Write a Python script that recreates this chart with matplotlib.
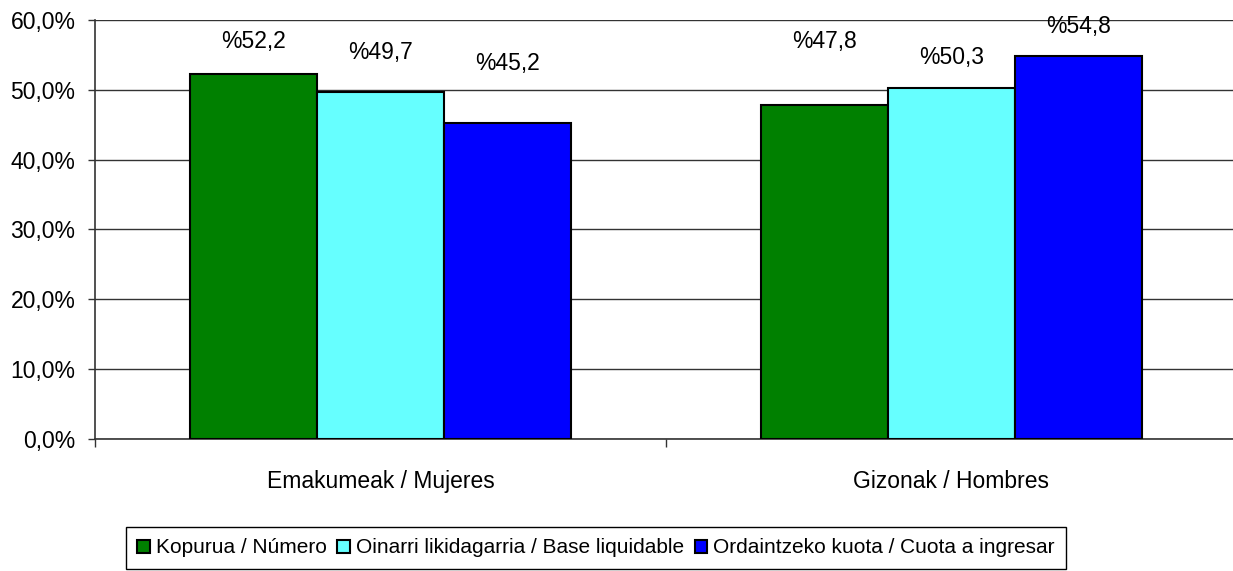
import matplotlib
matplotlib.use('Agg')
import matplotlib.pyplot as plt
import numpy as np

plt.rcParams['font.family'] = ['Liberation Sans', 'DejaVu Sans']

categories = ['Emakumeak / Mujeres', 'Gizonak / Hombres']
series_names = ['Kopurua / Número',
                'Oinarri likidagarria / Base liquidable',
                'Ordaintzeko kuota / Cuota a ingresar']
kopurua = [52.2, 47.8]
oinarri = [49.7, 50.3]
kuota = [45.2, 54.8]

colors = ['#008000', '#66FFFF', '#0000FF']
# label heights (the labels were placed by hand in the original)
label_y = [[56.9, 56.9], [55.4, 54.6], [53.7, 59.0]]

fig = plt.figure(figsize=(12.33, 5.71), dpi=100)
ax = fig.add_axes([0.077, 0.2312, 0.926, 0.7338])

x = np.arange(len(categories))
w = 0.2224
fs = 16.5

for i, (vals, col) in enumerate(zip([kopurua, oinarri, kuota], colors)):
    xs = x + (i - 1) * w
    ax.bar(xs, vals, width=w, color=col, edgecolor='black', linewidth=1.5,
           label=series_names[i], zorder=3)
    for xi, v, ly in zip(xs, vals, label_y[i]):
        ax.text(xi, ly, '%' + f'{v:.1f}'.replace('.', ','), ha='center',
                va='center', fontsize=fs)

ax.set_xlim(-0.5, 1.5)
ax.set_ylim(0, 60)
ax.set_yticks(np.arange(0, 61, 10))
ax.set_yticklabels([f'{v:.1f}%'.replace('.', ',') for v in np.arange(0, 61, 10)],
                   fontsize=fs)
ax.yaxis.grid(True, color='#333333', linewidth=1.0, zorder=0)
ax.set_axisbelow(True)
ax.tick_params(axis='y', length=5, width=1, color='#333333', pad=9)

ax.set_xticks(x)
ax.set_xticklabels(categories, fontsize=fs)
ax.set_xticks([-0.5, 0.5, 1.5], minor=True)
ax.tick_params(axis='x', which='major', length=0, pad=22)
ax.tick_params(axis='x', which='minor', length=6, width=1, color='#333333')

for s in ['top', 'right']:
    ax.spines[s].set_visible(False)
for s in ['left', 'bottom']:
    ax.spines[s].set_color('#333333')
    ax.spines[s].set_linewidth(1.2)

leg = fig.legend(loc='upper center', bbox_to_anchor=(0.4834, 0.077), ncol=3,
                 fontsize=15, frameon=True, fancybox=False, edgecolor='black',
                 framealpha=1, handlelength=0.6, handleheight=0.6,
                 handletextpad=0.3, columnspacing=0.5, borderpad=0.55,
                 borderaxespad=0)
leg.get_frame().set_linewidth(1.0)

fig.savefig('out.png', dpi=100)
